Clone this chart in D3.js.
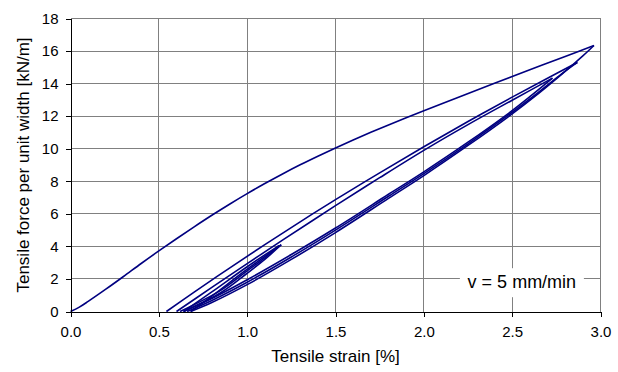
<!DOCTYPE html>
<html>
<head>
<meta charset="utf-8">
<script src="https://cdn.jsdelivr.net/npm/d3@7/dist/d3.min.js"></script>
<style>
  html, body { margin: 0; padding: 0; background: #fff; }
  svg { display: block; font-family: "Liberation Sans", Arial, sans-serif; }
</style>
</head>
<body>
<svg id="chart" width="618" height="372"></svg>
<script>
// ---- Data (strain [%], force [kN/m]) ----
const xTicks = [0.0, 0.5, 1.0, 1.5, 2.0, 2.5, 3.0];
const yTicks = [0, 2, 4, 6, 8, 10, 12, 14, 16, 18];

const firstLoading = [[0,0],[0.05,0.27],[0.10,0.62],[0.20,1.37],[0.30,2.15],[0.40,2.95],[0.50,3.72],
  [0.60,4.47],[0.70,5.20],[0.80,5.91],[0.90,6.59],[1.00,7.24],[1.10,7.86],[1.20,8.45],[1.30,9.01],
  [1.40,9.54],[1.50,10.05],[1.60,10.54],[1.70,11.01],[1.80,11.46],[1.90,11.90],[2.00,12.33],
  [2.20,13.18],[2.40,14.02],[2.60,14.85],[2.80,15.67],[2.963,16.34]];
const unloading1 = [[2.963,16.34],[2.90,15.70],[2.80,14.75],[2.65,13.40],[2.47,11.90],[2.25,10.20],
  [2.00,8.35],[1.80,6.95],[1.50,4.85],[1.25,3.20],[1.00,1.65],[0.80,0.55],[0.68,0]];
const smallLoad1 = [[0.68,0],[0.80,0.95],[1.00,2.60],[1.193,4.10]];
const smallUnload1 = [[1.193,4.10],[1.10,3.20],[1.00,2.35],[0.85,1.15],[0.64,0]];
const smallLoad2 = [[0.64,0],[0.80,1.20],[1.00,2.75],[1.18,4.05]];
const smallUnload2 = [[1.18,4.05],[1.10,3.30],[1.00,2.50],[0.85,1.30],[0.62,0]];
const reloading2 = [[0.543,0],[0.70,1.19],[0.90,2.67],[1.10,4.11],[1.30,5.51],[1.50,6.87],[1.75,8.52],
  [2.00,10.12],[2.25,11.67],[2.50,13.17],[2.70,14.33],[2.869,15.30]];
const unloading2 = [[2.869,15.30],[2.78,14.60],[2.65,13.48],[2.47,12.00],[2.25,10.30],[2.00,8.47],
  [1.80,7.08],[1.50,5.00],[1.25,3.35],[1.00,1.80],[0.80,0.68],[0.66,0]];
const reloading3 = [[0.60,0],[0.80,1.48],[1.00,2.94],[1.20,4.38],[1.50,6.50],[1.75,8.22],[2.00,9.90],
  [2.25,11.48],[2.50,12.98],[2.728,14.34]];
const unloading3 = [[2.728,14.34],[2.60,13.20],[2.47,12.10],[2.25,10.40],[2.00,8.58],[1.80,7.20],
  [1.50,5.13],[1.25,3.50],[1.00,1.95],[0.80,0.80],[0.64,0]];

const segments = [firstLoading, unloading1, smallLoad1, smallUnload1, smallLoad2, smallUnload2,
  reloading2, unloading2, reloading3, unloading3];

const xTitle = "Tensile strain [%]";
const yTitle = "Tensile force per unit width [kN/m]";
const note = "v = 5 mm/min";

// ---- Layout ----
const svg = d3.select("#chart");
const mLeft = 70.5, mRight = 600.5, mTop = 18.5, mBottom = 311.5;
const x = d3.scaleLinear().domain([0, 3]).range([mLeft, mRight]);
const y = d3.scaleLinear().domain([0, 18]).range([mBottom, mTop]);

// grid
const grid = svg.append("g").attr("shape-rendering", "crispEdges");
grid.selectAll("line.v").data(xTicks.slice(1)).enter().append("line")
  .attr("x1", d => x(d)).attr("x2", d => x(d)).attr("y1", mTop).attr("y2", mBottom)
  .attr("stroke", "#808080").attr("stroke-width", 1);
grid.selectAll("line.h").data(yTicks.slice(1)).enter().append("line")
  .attr("x1", mLeft).attr("x2", mRight).attr("y1", d => y(d)).attr("y2", d => y(d))
  .attr("stroke", "#808080").attr("stroke-width", 1);

// annotation with white background
const noteX = x(2.555), noteY = y(1.8);
svg.append("rect").attr("x", noteX - 62).attr("y", noteY - 14).attr("width", 124).attr("height", 29)
  .attr("fill", "#fff");
svg.append("text").attr("x", noteX).attr("y", noteY + 6).attr("text-anchor", "middle")
  .attr("font-size", 18).attr("fill", "#000").text(note);

// data lines
const line = d3.line().x(d => x(d[0])).y(d => y(d[1])).curve(d3.curveCatmullRom.alpha(0.5));
svg.append("g").selectAll("path").data(segments).enter().append("path")
  .attr("d", line).attr("fill", "none").attr("stroke", "#000080").attr("stroke-width", 1.6)
  .attr("stroke-linejoin", "round");

// axes
const xAxis = d3.axisBottom(x).tickValues(xTicks).tickFormat(d3.format(".1f")).tickSize(5).tickSizeOuter(0).tickPadding(10);
const yAxis = d3.axisLeft(y).tickValues(yTicks).tickFormat(d3.format("d")).tickSize(5).tickSizeOuter(0).tickPadding(7);
const gx = svg.append("g").attr("transform", `translate(0,${mBottom})`).call(xAxis);
const gy = svg.append("g").attr("transform", `translate(${mLeft},0)`).call(yAxis);
[gx, gy].forEach(g => {
  g.selectAll("path, line").attr("stroke", "#000").attr("shape-rendering", "crispEdges");
  g.selectAll("text").attr("font-size", 15).attr("fill", "#000")
    .attr("font-family", "'Liberation Sans', Arial, sans-serif");
});

// titles
svg.append("text").attr("x", (mLeft + mRight) / 2).attr("y", 362).attr("text-anchor", "middle")
  .attr("font-size", 17).attr("fill", "#000").text(xTitle);
svg.append("text").attr("transform", `translate(29,${(mTop + mBottom) / 2}) rotate(-90)`)
  .attr("text-anchor", "middle").attr("font-size", 17).attr("fill", "#000").text(yTitle);
</script>
</body>
</html>
